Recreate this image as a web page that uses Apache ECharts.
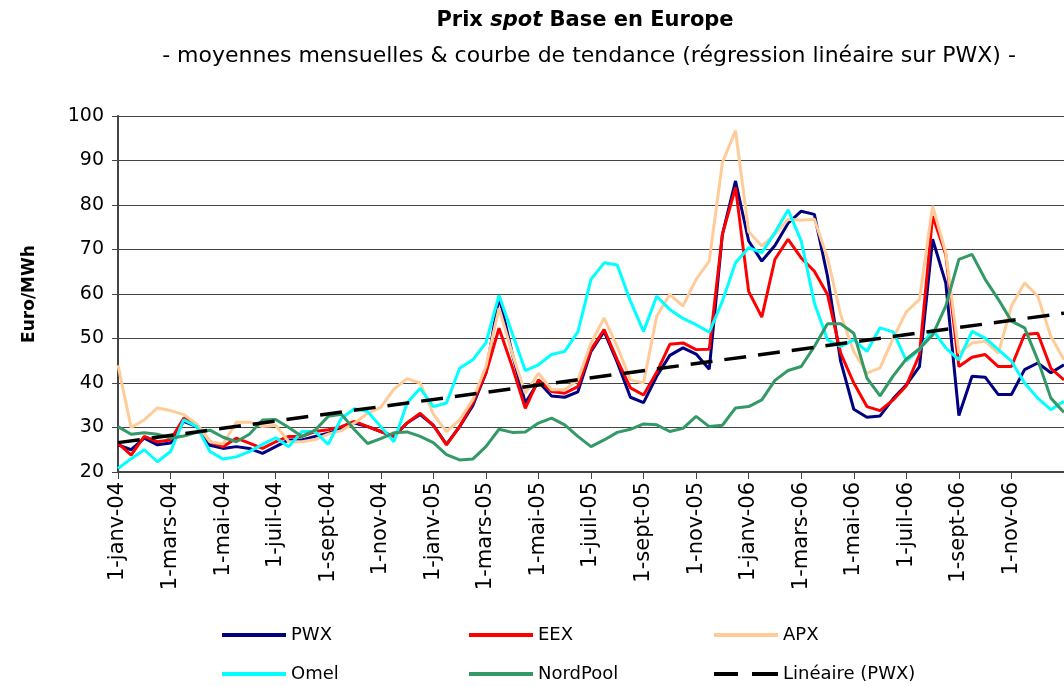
<!DOCTYPE html>
<html>
<head>
<meta charset="utf-8">
<script src="https://cdn.jsdelivr.net/npm/echarts@6/dist/echarts.min.js"></script>
<style>
  html, body { margin: 0; padding: 0; background: #fff; }
  #chart { width: 1064px; height: 686px; }
</style>
</head>
<body>
<div id="chart"></div>
<script>
// catégories : 1er et 15 de chaque mois, janv-04 -> janv-07
const mois = ['janv', 'févr', 'mars', 'avr', 'mai', 'juin', 'juil', 'août', 'sept', 'oct', 'nov', 'déc'];
const annees = ['04', '05', '06'];
const jours = ['1', '15'];
const dates = [];
annees.forEach(a => mois.forEach(m => jours.forEach(j => dates.push(j + '-' + m + '-' + a))));
dates.push('1-janv-07');

// prix spot base, Euro/MWh
const pwx = [26.1, 25, 27.6, 26.1, 26.5, 31.4, 30.2, 26, 25.3, 25.7, 25.3, 24.2,
  25.7, 27.2, 27.2, 28, 28.7, 29.8, 31, 30.2, 29.1, 28, 31, 32.9,
  30.5, 26.2, 30.2, 34.9, 42.2, 59.4, 46.7, 35.5, 40.3, 37.1, 36.8, 38,
  47.1, 51.6, 44.6, 36.8, 35.6, 41.5, 46.2, 47.9, 46.5, 43.1, 73.4, 85.4,
  71.9, 67.4, 70.9, 75.9, 78.6, 77.9, 64, 44.9, 34.1, 32.3, 32.6, 36.5,
  39.6, 43.7, 72.3, 62.5, 32.7, 41.5, 41.3, 37.4, 37.4, 43, 44.5, 42.3, 44.1];
const eex = [26.5, 23.8, 28, 26.8, 27.2, 32.1, 30.6, 26.8, 25.7, 27.6, 26.5, 25.3,
  26.8, 28, 28, 29.1, 29.5, 30.2, 31.4, 30.2, 29.1, 28, 31, 33.2,
  30.5, 26.1, 30.2, 35.5, 42.2, 52.3, 43.7, 34.3, 40.7, 38.1, 37.7, 39.2,
  47.5, 52, 45.2, 38.9, 37.3, 42.4, 48.7, 49, 47.5, 47.6, 73.4, 83.9,
  60.6, 54.8, 67.8, 72.3, 68.1, 65.1, 59.9, 46.7, 40, 34.7, 33.8, 36.2,
  39.4, 46.4, 77.5, 68.9, 43.7, 45.8, 46.4, 43.7, 43.7, 50.9, 51.2, 43.3, 40.7];
const apx = [44, 30, 31.7, 34.4, 33.8, 32.9, 30.8, 26.8, 26.3, 31.2, 31.2, 30.2,
  30.5, 26.8, 26.8, 27.3, 28.5, 29.3, 31, 33.2, 34.5, 38.6, 41, 40,
  33, 29.1, 31.7, 36.2, 43.7, 56.8, 46.7, 37.7, 42.2, 38.5, 38.5, 40.7,
  49, 54.6, 48.2, 40.7, 40, 55, 59.9, 57.3, 63.3, 67.4, 89.5, 96.7,
  74, 70.8, 73.4, 76.8, 76.6, 76.8, 68.1, 55.4, 47.1, 42.2, 43.4, 50.1,
  56, 58.8, 79.8, 69.3, 46.7, 49, 49.4, 46.7, 57.3, 62.5, 59.5, 50.5, 45.2];
const omel = [20.8, 23, 25, 22.3, 24.6, 31.7, 30.2, 24.6, 22.9, 23.4, 24.6, 26.2,
  27.7, 25.7, 29.1, 29.1, 26.2, 32.1, 34.2, 33.6, 30.2, 26.8, 35.5, 38.8,
  34.7, 35.5, 43.3, 45.2, 49, 59.7, 51.2, 42.8, 44.1, 46.4, 47.1, 51.5,
  63.3, 67, 66.5, 58.4, 51.6, 59.5, 56.5, 54.5, 53.1, 51.4, 58.4, 67,
  70.4, 69.3, 73.8, 78.9, 71.9, 58, 49.7, 48.2, 49.7, 47.1, 52.4, 51.5,
  45, 47.5, 52, 47.9, 45.2, 51.6, 50.1, 47.5, 44.9, 40, 36.6, 34, 35.9];
const nordpool = [30.2, 28.5, 28.8, 28.5, 27.6, 28.1, 28.9, 29.4, 27.8, 26.8, 28.5, 31.7,
  31.8, 30, 28, 29.4, 32.5, 33, 29.5, 26.4, 27.5, 28.8, 29, 28,
  26.6, 23.9, 22.7, 22.9, 25.7, 29.6, 28.9, 29, 31, 32.1, 30.6, 28,
  25.7, 27.2, 28.9, 29.6, 30.8, 30.6, 29.1, 29.8, 32.5, 30.2, 30.5, 34.4,
  34.7, 36.2, 40.6, 42.8, 43.7, 48.2, 53.3, 53.3, 51.2, 41.1, 37.1, 41.6,
  45.4, 47.7, 50.8, 57.3, 67.8, 68.9, 63.3, 58.8, 53.9, 52.4, 45.2, 36.6, 33.4];
// tendance linéaire sur PWX : valeurs aux deux extrémités
const tendance = [26.6, 55.7];

const police = '"DejaVu Sans", Verdana, sans-serif';
const chart = echarts.init(document.getElementById('chart'));

// un repère tous les deux mois (1er janv, mars, mai...), sauf le bord droit
const tousLes2Mois = (i) => i % 4 === 0 && i < dates.length - 1;

function serie(nom, data, couleur) {
    return {
        name: nom,
        type: 'line',
        data: data,
        symbol: 'none',
        lineStyle: { color: couleur, width: 3 },
        itemStyle: { color: couleur },
        emphasis: { disabled: true }
    };
}

function legende(nom, left, top, icone) {
    return {
        data: [{ name: nom, icon: icone || 'rect' }],
        left: left,
        top: top,
        itemWidth: 64,
        itemHeight: 4,
        textStyle: { fontFamily: police, fontSize: 18, color: '#000' }
    };
}

chart.setOption({
    animation: false,
    title: [{
        text: '{b|Prix }{i|spot}{b| Base en Europe}',
        left: 580,
        top: 5,
        textAlign: 'center',
        textStyle: {
            rich: {
                b: { fontFamily: police, fontWeight: 'bold', fontSize: 21, color: '#000' },
                i: { fontFamily: police, fontStyle: 'italic', fontSize: 21, color: '#000' }
            }
        }
    }, {
        text: '- moyennes mensuelles & courbe de tendance (régression linéaire sur PWX) -',
        left: 584,
        top: 40,
        textAlign: 'center',
        textStyle: { fontFamily: police, fontWeight: 'normal', fontSize: 22, color: '#000' }
    }],
    legend: [
        legende('PWX', 217, 621),
        legende('EEX', 464, 621),
        legende('APX', 709, 621),
        legende('Omel', 217, 660),
        legende('NordPool', 464, 660),
        legende('Linéaire (PWX)', 709, 660, 'path://M0,0H24V4H0Z M38,0H64V4H38Z')
    ],
    grid: { left: 118, right: 0, top: 116, bottom: 214 },
    xAxis: {
        type: 'category',
        data: dates,
        boundaryGap: false,
        axisLine: { lineStyle: { color: '#444', width: 2 } },
        axisTick: {
            length: 7,
            interval: tousLes2Mois,
            lineStyle: { color: '#444', width: 1 }
        },
        axisLabel: {
            interval: tousLes2Mois,
            rotate: 90,
            margin: 10,
            fontFamily: police,
            fontSize: 21,
            color: '#000'
        },
        splitLine: { show: false }
    },
    yAxis: {
        type: 'value',
        min: 20,
        max: 100,
        interval: 10,
        name: 'Euro/MWh',
        nameLocation: 'middle',
        nameRotate: 90,
        nameGap: 80,
        nameTextStyle: { fontFamily: police, fontWeight: 'bold', fontSize: 17, color: '#000' },
        axisLine: { show: true, lineStyle: { color: '#444', width: 2 } },
        axisTick: { show: true, length: 6, lineStyle: { color: '#444' } },
        axisLabel: { fontFamily: police, fontSize: 19, color: '#000', margin: 14 },
        splitLine: { lineStyle: { color: '#444', width: 1 } }
    },
    series: [
        serie('PWX', pwx, '#000080'),
        serie('EEX', eex, '#ff0000'),
        serie('APX', apx, '#ffcc99'),
        serie('Omel', omel, '#00ffff'),
        serie('NordPool', nordpool, '#339966'),
        {
            name: 'Linéaire (PWX)',
            type: 'line',
            data: [[dates[0], tendance[0]], [dates[dates.length - 1], tendance[1]]],
            symbol: 'none',
            lineStyle: { color: '#000', width: 3.5, type: [22, 12] },
            itemStyle: { color: '#000' },
            emphasis: { disabled: true }
        }
    ]
});
</script>
</body>
</html>
